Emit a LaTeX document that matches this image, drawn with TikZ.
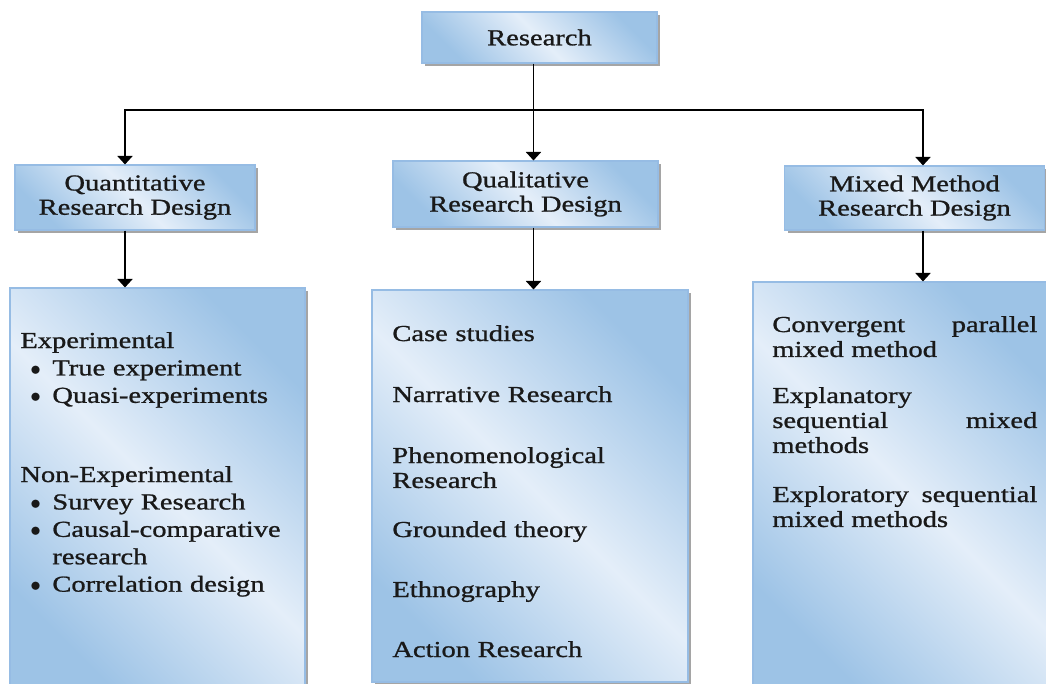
\documentclass[tikz,border=0pt]{standalone}
\usepackage{fontspec}
\setmainfont{Liberation Serif}[FakeStretch=1.25, FakeBold=1]
\usetikzlibrary{arrows.meta,shadows}
\definecolor{boxdark}{RGB}{157,195,230}
\definecolor{boxlight}{RGB}{228,238,249}
\definecolor{boxedge}{RGB}{150,188,228}
\newcommand{\bitem}[1]{\hspace*{0.2cm}\makebox[0.44cm][l]{$\bullet$}#1}

\begin{document}
\begin{tikzpicture}[
    card/.style={draw=boxedge, line width=0.6pt, top color=boxdark, bottom color=boxdark,
      middle color=boxlight, shading angle=-45,
      drop shadow={shadow xshift=0.06cm, shadow yshift=-0.06cm, fill=black!50, opacity=0.7}},
    head/.style={card, align=center, inner sep=0pt, text=black!90,
      font=\fontsize{13}{13.8}\selectfont},
    entry/.style={anchor=base west, inner sep=0pt, align=left, text=black!90,
      font=\fontsize{13}{14.2}\selectfont},
    link/.style={line width=1.1pt, -{Triangle[width=0.3cm,length=0.17cm]}}
  ]
  \useasboundingbox (0,0) rectangle (20.92,-13.68);
  \fill[white] (0,0) rectangle (20.92,-13.68);

    % Top of the tree
  \node[head, minimum width=4.7cm, minimum height=1.02cm] (research) at (10.79,-0.75) {Research};

    % Three designs
  \node[head, minimum width=4.8cm, minimum height=1.3cm] (quant) at (2.7,-3.95) {Quantitative\\Research Design};
  \node[head, minimum width=5.3cm, minimum height=1.32cm] (qual) at (10.51,-3.88) {Qualitative\\Research Design};
  \node[head, minimum width=5.2cm, minimum height=1.28cm] (mixed) at (18.29,-3.96) {Mixed Method\\Research Design};

    % Lists below
  \node[card, minimum width=5.9cm, minimum height=8.04cm] (quantlist) at (3.15,-9.78) {};
  \node[card, minimum width=6.32cm, minimum height=7.84cm] (quallist) at (10.6,-9.72) {};
  \node[card, minimum width=5.94cm, minimum height=8.12cm] (mixedlist) at (18.03,-9.7) {};

  \node[entry, text width=5.5cm, font=\fontsize{13}{15.6}\selectfont] (exp) at (0.4,-6.96)
    {Experimental\\ \bitem{True experiment}\\ \bitem{Quasi-experiments}};
  \node[entry, text width=5.5cm, font=\fontsize{13}{15.6}\selectfont] (nonexp) at (0.4,-9.64)
    {Non-Experimental\\ \bitem{Survey Research}\\ \bitem{Causal-comparative}\\
     \hspace*{0.64cm}research\\ \bitem{Correlation design}};

  \node[entry, text width=5.8cm] (case) at (7.84,-6.82) {Case studies};
  \node[entry, text width=5.8cm] (narr) at (7.84,-8.04) {Narrative Research};
  \node[entry, text width=5.8cm] (phen) at (7.84,-9.26) {Phenomenological\\Research};
  \node[entry, text width=5.8cm] (grnd) at (7.84,-10.74) {Grounded theory};
  \node[entry, text width=5.8cm] (ethno) at (7.84,-11.94) {Ethnography};
  \node[entry, text width=5.8cm] (action) at (7.84,-13.14) {Action Research};

  \node[entry, text width=5.3cm] (conv) at (15.44,-6.64) {Convergent\hfill parallel\\mixed method};
  \node[entry, text width=5.3cm] (expl) at (15.44,-8.06) {Explanatory\\sequential\hfill mixed\\methods};
  \node[entry, text width=5.3cm] (explor) at (15.44,-10.04) {Exploratory\hfill sequential\\mixed methods};

    % Connectors
  \coordinate (col1) at (2.5,-2.2);
  \coordinate (col2) at (10.67,-2.2);
  \coordinate (col3) at (18.46,-2.2);
  \draw[line width=1.1pt] (research.south -| col2) -- (col2);
  \draw[link] (col2) -| (quant.north -| col1);
  \draw[link] (col2) -- (qual.north -| col2);
  \draw[link] (col2) -| (mixed.north -| col3);
  \draw[link] (quant.south -| col1) -- (quantlist.north -| col1);
  \draw[link] (qual.south -| col2) -- (quallist.north -| col2);
  \draw[link] (mixed.south -| col3) -- (mixedlist.north -| col3);
\end{tikzpicture}
\end{document}
